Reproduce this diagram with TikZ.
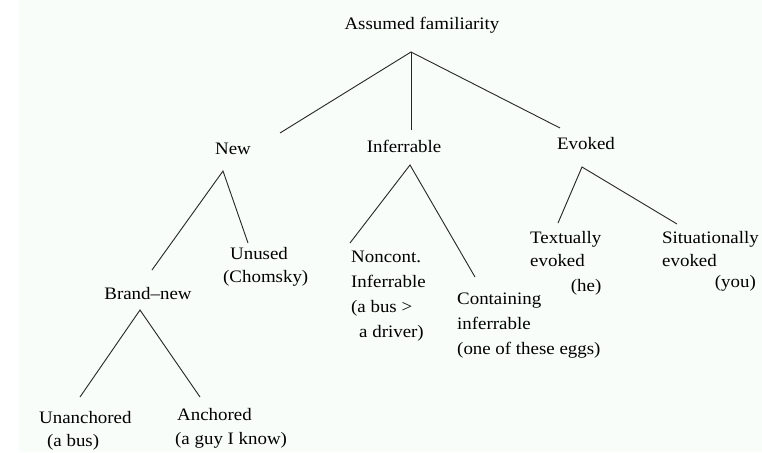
\documentclass[tikz,border=0pt]{standalone}
\usepackage{fontspec}
\setmainfont{Liberation Serif}[FakeStretch=1.08]
\definecolor{paper}{RGB}{248,253,250}
\newcommand{\stacktxt}[1]{\begin{tabular}[t]{@{}l@{}}#1\end{tabular}}
\tikzset{
	lbl/.style={inner sep=0pt, text=black, font=\fontsize{17.5}{25}\selectfont},
	branch/.style={draw=black!85, line width=0.9pt}
}
\begin{document}
\begin{tikzpicture}[x=1pt, y=-1pt]
	\useasboundingbox (0,0) rectangle (762,452);
	\fill[paper] (19,0) rectangle (762,452);
	
	% labels
	\node (fam) at (422,30) [anchor=base, lbl]{Assumed familiarity};
	\node (new) at (233,154) [anchor=base, lbl]{New};
	\node (inf) at (404,152) [anchor=base, lbl]{Inferrable};
	\node (evo) at (586,149) [anchor=base, lbl]{Evoked};
	\node (unused) at (223,259) [anchor=base west, lbl]{\stacktxt{\hspace*{7pt}Unused\\[-2pt](Chomsky)}};
	\node (brand) at (148,299) [anchor=base, lbl]{Brand--new};
	\node (unanch) at (39,423) [anchor=base west, lbl]{\stacktxt{Unanchored\\[-2pt]\hspace*{8pt}(a bus)}};
	\node (anch) at (175,420) [anchor=base west, lbl]{\stacktxt{\hspace*{2pt}Anchored\\[-1pt](a guy I know)}};
	\node (noncont) at (351,262) [anchor=base west, lbl]{\stacktxt{Noncont.\\Inferrable\\(a bus >\\\hspace*{8pt}a driver)}};
	\node (contain) at (457,304) [anchor=base west, lbl]{\stacktxt{Containing\\inferrable\\(one of these eggs)}};
	\node (textev) at (530,243) [anchor=base west, lbl]{\stacktxt{Textually\\[-2pt]evoked\\\multicolumn{1}{@{}r@{}}{(he)}}};
	\node (situev) at (662,243) [anchor=base west, lbl]{\stacktxt{Situationally\\[-2pt]evoked\\[-4pt]\multicolumn{1}{@{}r@{}}{(you)\hspace*{3pt}}}};
	
	% branch points
	\coordinate (famtip) at (411,52);
	\coordinate (newtip) at (223,171);
	\coordinate (inftip) at (410,165);
	\coordinate (evotip) at (582,167);
	\coordinate (brandtip) at (140,310);
	
	% branch ends
	\coordinate (new-top) at (280,133);
	\coordinate (inf-top) at (411,130);
	\coordinate (evo-top) at (560,128);
	\coordinate (brand-top) at (152,270);
	\coordinate (unused-top) at (248,243);
	\coordinate (noncont-top) at (350,243);
	\coordinate (contain-top) at (475,277);
	\coordinate (textev-top) at (558,223);
	\coordinate (situev-top) at (677,224);
	\coordinate (unanch-top) at (80,397);
	\coordinate (anch-top) at (200,397);
	
	\draw[branch] (new-top) -- (famtip) -- (evo-top);
	\draw[branch] (famtip) -- (inf-top);
	\draw[branch] (brand-top) -- (newtip) -- (unused-top);
	\draw[branch] (noncont-top) -- (inftip) -- (contain-top);
	\draw[branch] (textev-top) -- (evotip) -- (situev-top);
	\draw[branch] (unanch-top) -- (brandtip) -- (anch-top);
\end{tikzpicture}
\end{document}
